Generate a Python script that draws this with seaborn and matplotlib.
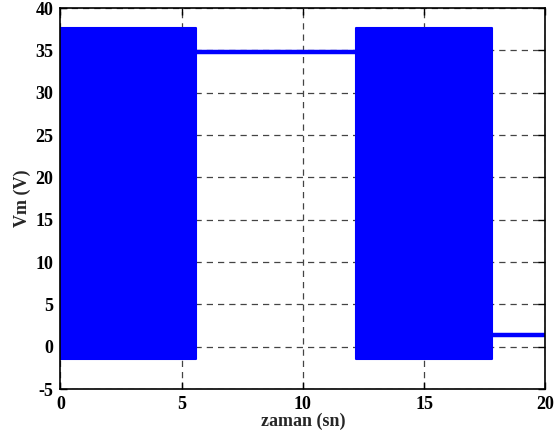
import matplotlib
matplotlib.use("Agg")
import matplotlib.pyplot as plt
import seaborn as sns
import pandas as pd

# Segments of the Vm(t) trace
seg_start = [0.0, 5.58, 12.2, 17.78]
seg_end = [5.58, 12.2, 17.78, 20.0]
seg_low = [-1.4, 34.8, -1.4, 1.35]
seg_high = [37.6, 34.8, 37.6, 1.35]

x_ticks = [0, 5, 10, 15, 20]
y_ticks = [-5, 0, 5, 10, 15, 20, 25, 30, 35, 40]

sns.set_theme(style="white")
plt.rcParams["font.family"] = ["Liberation Serif", "DejaVu Serif"]
plt.rcParams["font.weight"] = "bold"

fig = plt.figure(figsize=(5.57, 4.45), dpi=100)
ax = fig.add_axes([0.1086, 0.1258, 0.8706, 0.8562])

blue = "#0000ff"
for t0, t1, lo, hi in zip(seg_start, seg_end, seg_low, seg_high):
    if hi > lo:
        ax.fill_between([t0, t1], [lo, lo], [hi, hi], color=blue, linewidth=1.5,
                        edgecolor=blue, zorder=3)
    else:
        df = pd.DataFrame({"t": [t0, t1], "v": [lo, hi]})
        sns.lineplot(data=df, x="t", y="v", ax=ax, color=blue, linewidth=3.2, zorder=3)

ax.set_xlim(0, 20)
ax.set_ylim(-5, 40)
ax.set_xticks(x_ticks)
ax.set_yticks(y_ticks)
ax.set_xticklabels([str(v) for v in x_ticks], fontsize=13, fontweight="bold")
ax.set_yticklabels([str(v) for v in y_ticks], fontsize=13, fontweight="bold")
ax.set_xlabel("zaman (sn)", fontsize=13, fontweight="bold", labelpad=0)
ax.set_ylabel("Vm (V)", fontsize=13, fontweight="bold", labelpad=3)

ax.grid(True, linestyle=(0, (5, 4)), color="#444444", linewidth=0.9)
ax.tick_params(direction="in", length=5, width=1, top=True, right=True,
               bottom=True, left=True, pad=5, colors="black")
for s in ax.spines.values():
    s.set_color("black")
    s.set_linewidth(1.2)
    s.set_zorder(5)

fig.savefig("out.png", dpi=100)
